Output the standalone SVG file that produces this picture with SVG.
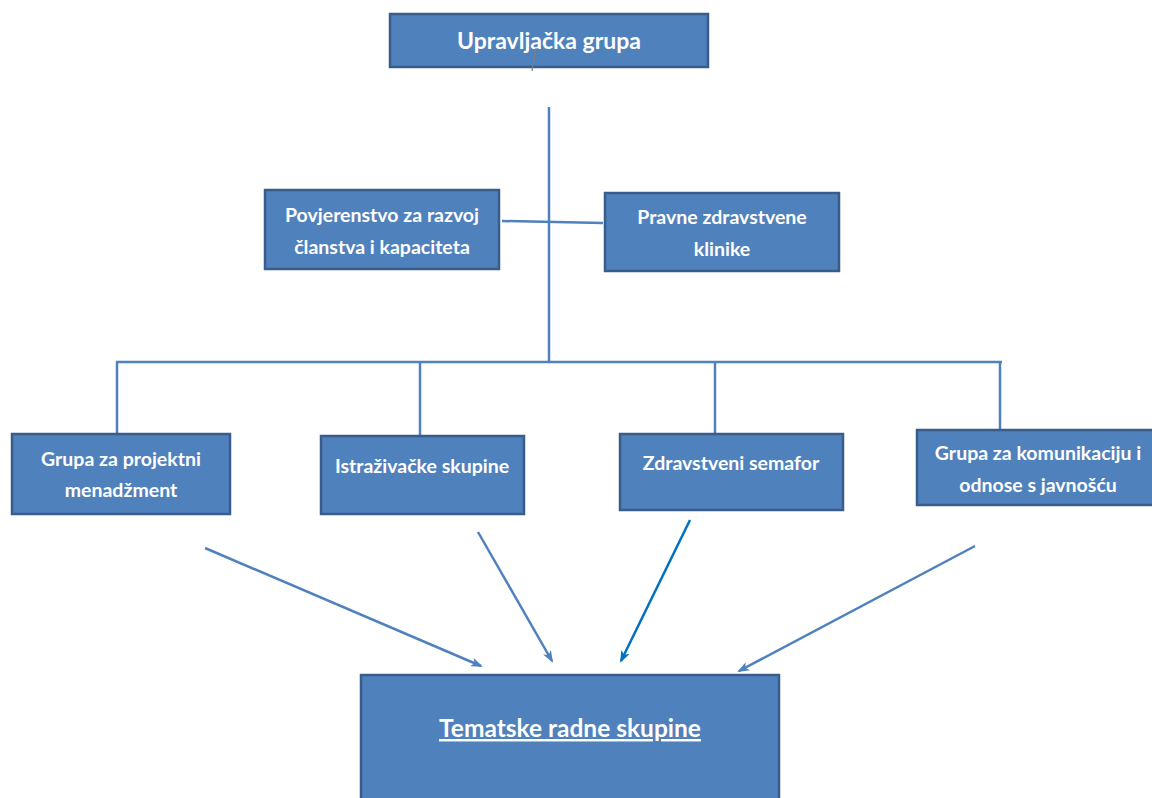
<svg xmlns="http://www.w3.org/2000/svg" width="1152" height="798" viewBox="0 0 1152 798">
<style>
.box{fill:#4F81BD;stroke:#385D8A;stroke-width:2.5}
.t{font-family:Lato,"Open Sans","Liberation Sans",sans-serif;font-weight:bold;fill:#fff;text-anchor:middle;font-size:19.5px}
.ln{stroke:#4F81BD;stroke-width:2.5;fill:none}
.ar{stroke:#4F81BD;stroke-width:2.5;fill:none;marker-end:url(#ah)}
.ar2{stroke:#0070C0;stroke-width:2.5;fill:none;marker-end:url(#ah2)}
</style>
<defs>
<marker id="ah" markerWidth="12" markerHeight="9" refX="10" refY="4.5" orient="auto" markerUnits="userSpaceOnUse" viewBox="0 0 12 9">
<path d="M0,0 L12,4.5 L0,9 L3,4.5 Z" fill="#4F81BD"/>
</marker>
<marker id="ah2" markerWidth="12" markerHeight="9" refX="10" refY="4.5" orient="auto" markerUnits="userSpaceOnUse" viewBox="0 0 12 9">
<path d="M0,0 L12,4.5 L0,9 L3,4.5 Z" fill="#0070C0"/>
</marker>
</defs>
<rect width="1152" height="798" fill="#fff"/>
<g id="connectors">
<line class="ln" x1="549" y1="107" x2="549" y2="363"/>
<line class="ln" x1="502" y1="221" x2="603" y2="223"/>
<line class="ln" x1="116" y1="362" x2="1002" y2="362"/>
<line class="ln" x1="117" y1="362" x2="117" y2="433"/>
<line class="ln" x1="420" y1="362" x2="420" y2="435"/>
<line class="ln" x1="715" y1="362" x2="715" y2="433"/>
<line class="ln" x1="1000" y1="362" x2="1000" y2="429"/>
<line class="ar" x1="205" y1="548" x2="481" y2="666"/>
<line class="ar" x1="478" y1="532" x2="552" y2="661"/>
<line class="ar2" x1="690" y1="520" x2="621" y2="661"/>
<line class="ar" x1="975" y1="546" x2="739" y2="671"/>
</g>
<g id="n1">
<rect class="box" x="390" y="14" width="318" height="53"/>
<text class="t" x="549" y="49" style="font-size:23px">Upravljačka grupa</text>
<line x1="536" y1="48" x2="532" y2="71" stroke="#7f7f7f" stroke-width="1.2"/>
</g>
<g id="n2">
<rect class="box" x="265" y="190" width="234" height="79"/>
<text class="t" x="382" y="222">Povjerenstvo za razvoj</text>
<text class="t" x="382" y="254">članstva i kapaciteta</text>
</g>
<g id="n3">
<rect class="box" x="605" y="193" width="234" height="78"/>
<text class="t" x="722" y="224">Pravne zdravstvene</text>
<text class="t" x="722" y="256">klinike</text>
</g>
<g id="n4">
<rect class="box" x="12" y="434" width="218" height="80"/>
<text class="t" x="121" y="466">Grupa za projektni</text>
<text class="t" x="121" y="497">menadžment</text>
</g>
<g id="n5">
<rect class="box" x="321" y="436" width="203" height="78"/>
<text class="t" x="422" y="473">Istraživačke skupine</text>
</g>
<g id="n6">
<rect class="box" x="620" y="434" width="223" height="76"/>
<text class="t" x="731" y="470">Zdravstveni semafor</text>
</g>
<g id="n7">
<rect class="box" x="917" y="430" width="240" height="75"/>
<text class="t" x="1038" y="460">Grupa za komunikaciju i</text>
<text class="t" x="1038" y="492">odnose s javnošću</text>
</g>
<g id="n8">
<rect class="box" x="361" y="675" width="418" height="130"/>
<text class="t" x="570" y="737" style="font-size:24.5px;text-decoration:underline">Tematske radne skupine</text>
</g>
</svg>
